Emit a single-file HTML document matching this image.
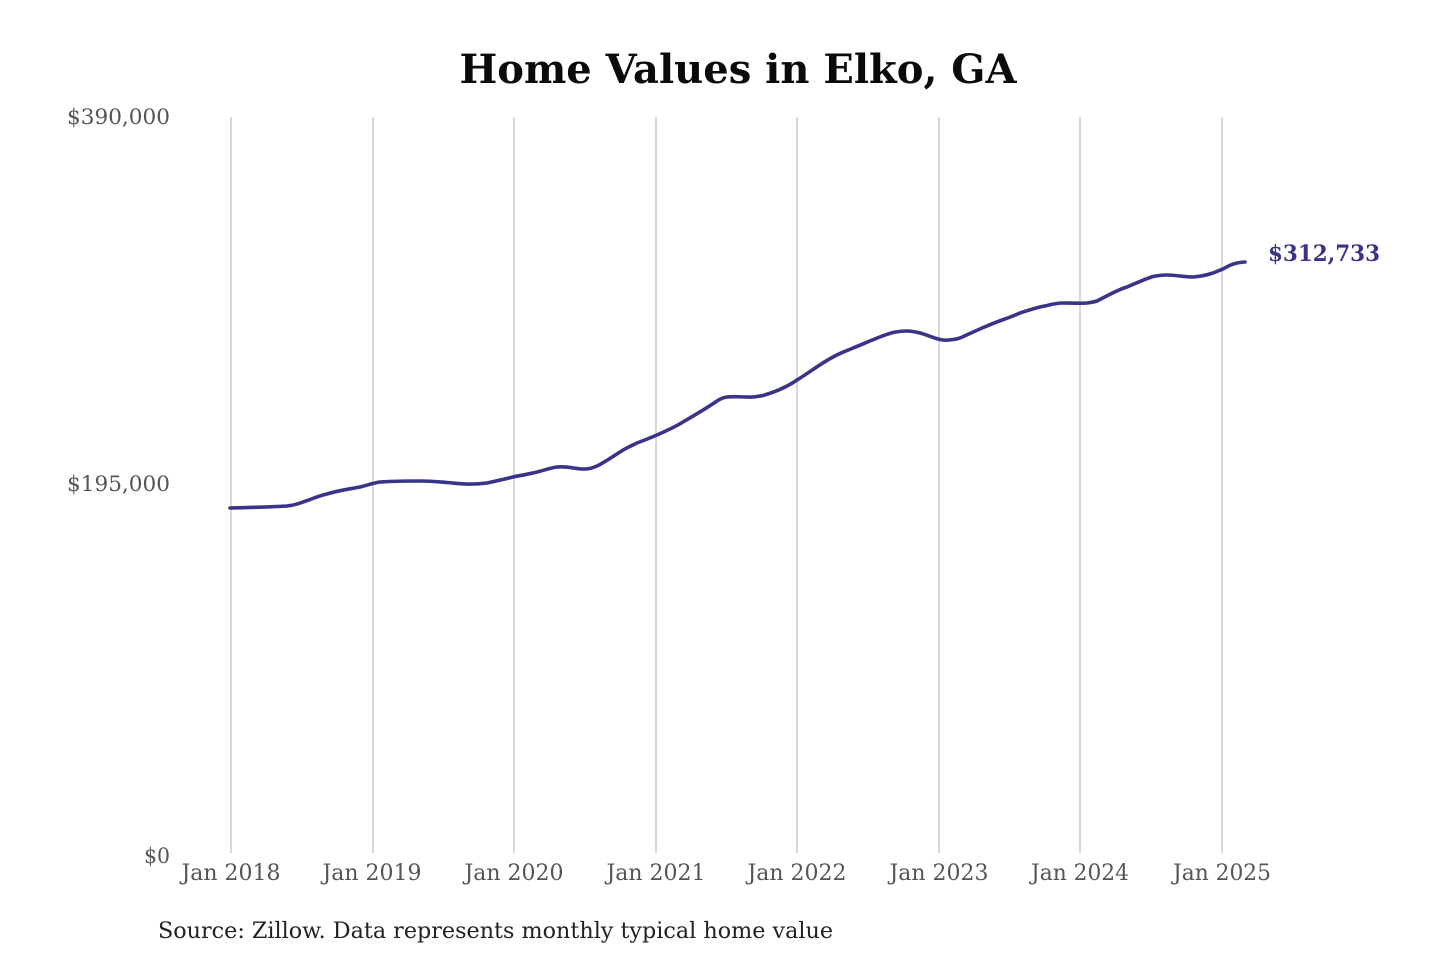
<!DOCTYPE html>
<html><head><meta charset="utf-8"><style>
html,body{margin:0;padding:0;background:#fff;}
svg{display:block;}
text{font-family:"DejaVu Serif","Liberation Serif",serif;}
</style></head><body>
<svg width="1440" height="960" viewBox="0 0 1440 960" xmlns="http://www.w3.org/2000/svg">
<rect width="1440" height="960" fill="#fff"/>
<text x="738" y="83" text-anchor="middle" font-size="40" font-weight="bold" fill="#0a0a0a" textLength="557" lengthAdjust="spacingAndGlyphs">Home Values in Elko, GA</text>
<g stroke="#c4c4c4" stroke-width="1.3">
<line x1="231" y1="117" x2="231" y2="853"/>
<line x1="373" y1="117" x2="373" y2="853"/>
<line x1="514" y1="117" x2="514" y2="853"/>
<line x1="656" y1="117" x2="656" y2="853"/>
<line x1="797" y1="117" x2="797" y2="853"/>
<line x1="939" y1="117" x2="939" y2="853"/>
<line x1="1080" y1="117" x2="1080" y2="853"/>
<line x1="1222" y1="117" x2="1222" y2="853"/>
</g>
<g font-size="21" fill="#555" text-anchor="end">
<text x="170" y="124" textLength="103" lengthAdjust="spacingAndGlyphs">$390,000</text>
<text x="170" y="491" textLength="103" lengthAdjust="spacingAndGlyphs">$195,000</text>
<text x="170" y="863" textLength="26" lengthAdjust="spacingAndGlyphs">$0</text>
</g>
<g font-size="22" fill="#555" text-anchor="middle">
<text x="231" y="880" textLength="99" lengthAdjust="spacingAndGlyphs">Jan 2018</text>
<text x="372" y="880" textLength="99" lengthAdjust="spacingAndGlyphs">Jan 2019</text>
<text x="514" y="880" textLength="99" lengthAdjust="spacingAndGlyphs">Jan 2020</text>
<text x="656" y="880" textLength="99" lengthAdjust="spacingAndGlyphs">Jan 2021</text>
<text x="797" y="880" textLength="99" lengthAdjust="spacingAndGlyphs">Jan 2022</text>
<text x="939" y="880" textLength="99" lengthAdjust="spacingAndGlyphs">Jan 2023</text>
<text x="1080" y="880" textLength="98" lengthAdjust="spacingAndGlyphs">Jan 2024</text>
<text x="1222" y="880" textLength="98" lengthAdjust="spacingAndGlyphs">Jan 2025</text>
</g>
<path fill="none" stroke="#3a3488" stroke-width="3.6" stroke-linejoin="round" stroke-linecap="round"
d="M230,508 C250,507.5 270,507 287,506 C295,505 298,504 303,502 C312,499 318,496 327,494 C340,490 350,489 360,487 C368,485 373,483 380,482 C395,481 405,481 420,481 C432,481 440,482 447,482.5 C458,483.5 465,484.5 473,484 C478,484 482,483.5 487,483 C496,481 505,479 513,477 C522,475 530,474 537,472 C545,470 550,468 557,467 C568,466 575,469 583,469 C590,469 592,468 597,466 C605,462 612,457 620,452 C626,448 631,446 637,443 C645,440 650,438 657,435 C666,431 675,427 683,422 C695,415 707,408 717,401 C720,399 723,397.5 727,397 C735,396 745,397.5 753,397 C757,396.5 760,396 763,395.5 C775,392 787,387 797,380 C810,372 820,364 833,357 C840,353 846,351 853,348 C866,343 880,336 893,332.5 C898,331.5 902,331 907,331 C912,331 916,332 920,333 C928,335 935,339 943,340 C947,340.5 950,340 953,339.5 C957,339 958,338.5 960,338 C969,334 977,330 987,326 C998,321 1009,318 1020,313 C1029,310 1038,307 1047,305.5 C1053,304 1058,303 1063,303 C1071,303 1080,303.5 1087,303 C1091,302.5 1094,302 1097,301 C1107,296 1117,290 1127,287 C1136,283 1145,279 1153,276.5 C1158,275.5 1162,275 1167,275 C1175,275 1185,277 1193,277 C1200,276.5 1207,275 1213,273 C1217,271.5 1220,270 1223,269 C1228,266 1232,264 1237,263 C1240,262.5 1243,262 1245,262"/>
<text x="1268" y="261" font-size="22" font-weight="bold" fill="#3a3488" textLength="112" lengthAdjust="spacingAndGlyphs">$312,733</text>
<text x="158" y="938" font-size="22" fill="#222" textLength="675" lengthAdjust="spacingAndGlyphs">Source: Zillow. Data represents monthly typical home value</text>
</svg>
</body></html>
